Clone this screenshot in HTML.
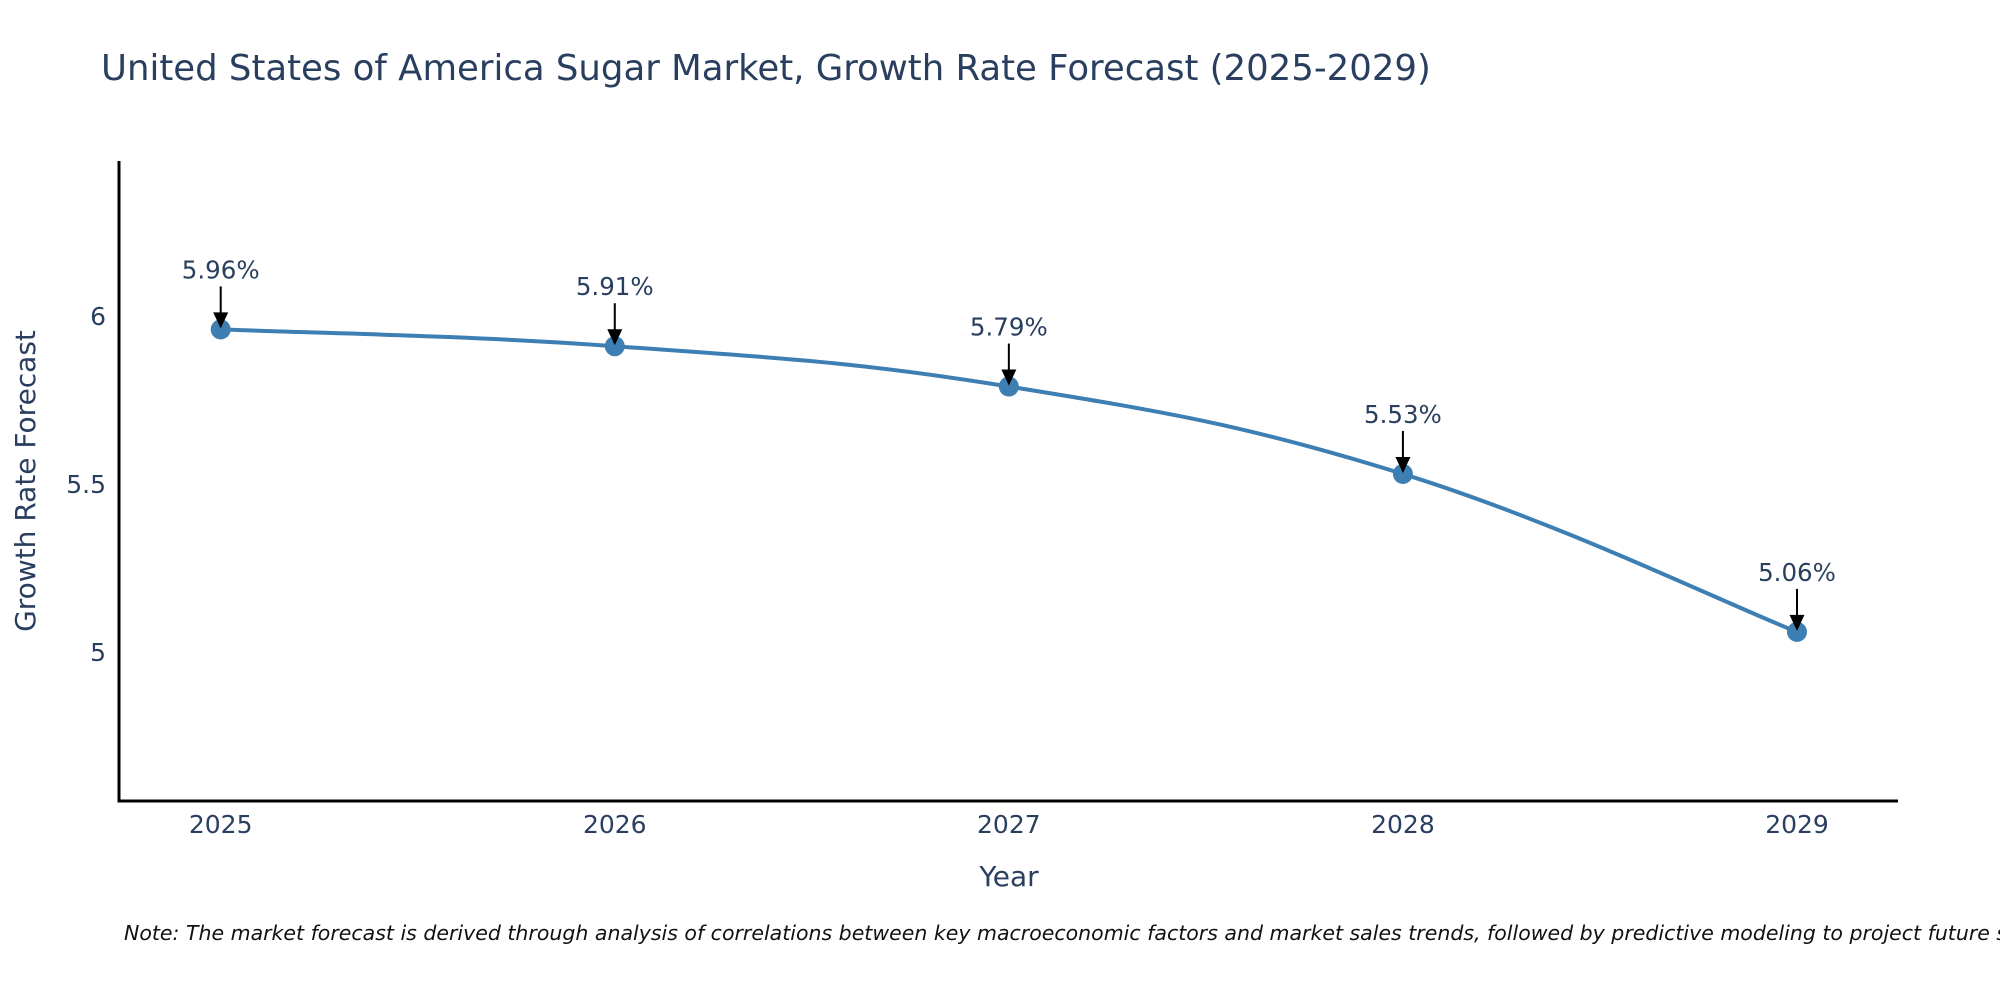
<!DOCTYPE html>
<html><head><meta charset="utf-8">
<style>
html,body{margin:0;padding:0;background:#fff;width:2000px;height:1000px;overflow:hidden}
svg{display:block;font-family:"DejaVu Sans","Liberation Sans",sans-serif}
</style></head>
<body>
<svg id="chart" width="2000" height="1000">
<text x="101" y="80" font-size="35.5" fill="#2a3f5f">United States of America Sugar Market, Growth Rate Forecast (2025-2029)</text>
<g id="plot"></g>
<text x="1009" y="886" font-size="28" fill="#2a3f5f" text-anchor="middle">Year</text>
<text transform="translate(35,481) rotate(-90)" font-size="28" fill="#2a3f5f" text-anchor="middle">Growth Rate Forecast</text>
<text x="124" y="940" font-size="20.5" font-style="italic" fill="#111">Note: The market forecast is derived through analysis of correlations between key macroeconomic factors and market sales trends, followed by predictive modeling to project future sales.</text>
</svg>
<script>
const years = [2025, 2026, 2027, 2028, 2029];
const rates = [5.96, 5.91, 5.79, 5.53, 5.06];
const yTicks = [5, 5.5, 6];
const yTickLabels = ["5", "5.5", "6"];

const NS = "http://www.w3.org/2000/svg";
const g = document.getElementById("plot");
const L = 119, R = 1898, T = 161, B = 801;
const yMin = 4.557, yMax = 6.461;
const xs = v => 220.7 + (v - years[0]) * (1797 - 220.7) / (years[years.length-1] - years[0]);
const ys = v => B - (v - yMin) / (yMax - yMin) * (B - T);
function mk(tag, attrs){const e=document.createElementNS(NS,tag);for(const k in attrs)e.setAttribute(k,attrs[k]);g.appendChild(e);return e;}

let a = mk("path",{d:`M${L},${T} V${B} H${R}`,fill:"none",stroke:"#000","stroke-width":3});



yTicks.forEach((t,i)=>{
  const e = mk("text",{x:L-13,y:ys(t)+9,"font-size":25,fill:"#2a3f5f","text-anchor":"end"});
  e.textContent = yTickLabels[i];
  
  
});
years.forEach(yr=>{
  const e = mk("text",{x:xs(yr),y:833,"font-size":25,fill:"#2a3f5f","text-anchor":"middle"});
  e.textContent = String(yr);
  
  
});

const pts = years.map((yr,i)=>[xs(yr), ys(rates[i])]);
let d = `M${pts[0][0]},${pts[0][1]}`;
const s = 0.2;
for(let i=0;i<pts.length-1;i++){
  const p0=pts[Math.max(0,i-1)],p1=pts[i],p2=pts[i+1],p3=pts[Math.min(pts.length-1,i+2)];
  const c1=[p1[0]+(p2[0]-p0[0])*s,p1[1]+(p2[1]-p0[1])*s];
  const c2=[p2[0]-(p3[0]-p1[0])*s,p2[1]-(p3[1]-p1[1])*s];
  d+=` C${c1[0]},${c1[1]} ${c2[0]},${c2[1]} ${p2[0]},${p2[1]}`;
}
const line = mk("path",{d:d,fill:"none",stroke:"#3d7eb3","stroke-width":4});



pts.forEach((p,i)=>{
  const c = mk("circle",{cx:p[0],cy:p[1],r:10,fill:"#3d7eb3"});
  
  
  const ar = mk("line",{x1:p[0],y1:p[1]-43,x2:p[0],y2:p[1]-14,stroke:"#000","stroke-width":2});
  
  
  const hd = mk("path",{d:`M${p[0]-7.5},${p[1]-17} L${p[0]+7.5},${p[1]-17} L${p[0]},${p[1]-1} Z`,fill:"#000"});
  
  
  const t = mk("text",{x:p[0],y:p[1]-51,"font-size":24.5,fill:"#2a3f5f","text-anchor":"middle"});
  t.textContent = rates[i].toFixed(2) + "%";
  
  
});
</script>
</body></html>
